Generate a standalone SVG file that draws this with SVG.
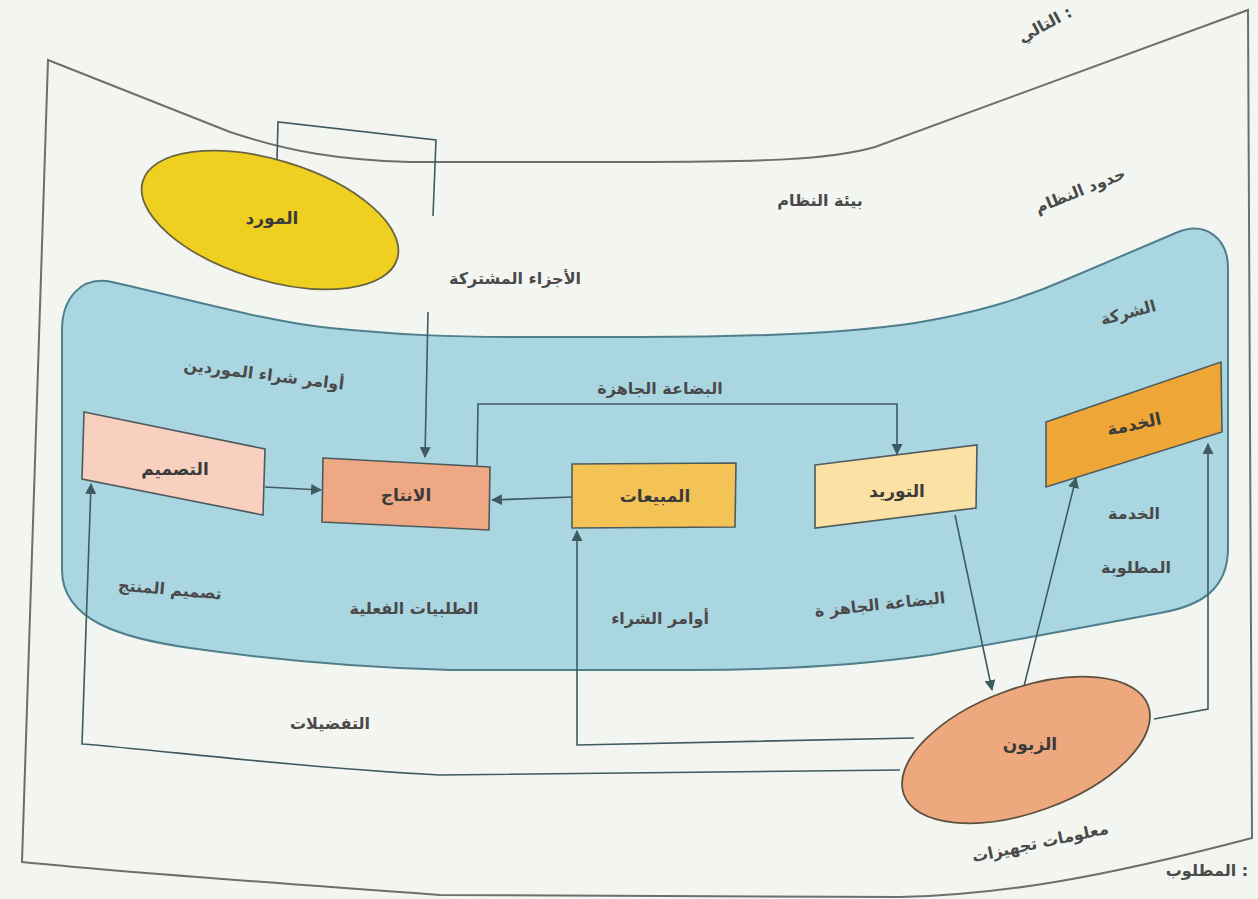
<svg xmlns="http://www.w3.org/2000/svg" width="1258" height="899" viewBox="0 0 1258 899">
<defs>
<marker id="arr" viewBox="0 0 10 10" refX="9" refY="5" markerWidth="11" markerHeight="11" markerUnits="userSpaceOnUse" orient="auto">
<path d="M0,0 L10,5 L0,10 Z" fill="#3f5a60"/>
</marker>
<style>
.bd{fill:none;stroke:#6e6e6e;stroke-width:2}
.box{stroke:#4d5a5c;stroke-width:1.6}
.cn{fill:none;stroke:#3f5a60;stroke-width:1.6}
.nt{font-family:"DejaVu Sans",sans-serif;font-weight:bold;font-size:17px;fill:#3b3b3b;text-anchor:middle}
.lb{font-family:"DejaVu Sans",sans-serif;font-weight:bold;font-size:16px;fill:#4a4a4a;text-anchor:middle}
</style>
</defs>
<rect width="1258" height="899" fill="#f3f5f1"/>

<g id="system-boundary">
<path class="bd" d="M48,60 L230,132 C290,152 340,160 410,162 L630,162 C760,162 830,160 875,147 L1248,10 L1252,838 C1100,878 1000,895 900,897 L440,895 C300,885 120,872 22,862 Z"/>
</g>

<g id="company">
<path d="M62,330 C62,300 80,275 112,282 C200,302 270,322 330,328 C400,335 450,337 520,337 L640,337 C760,337 850,333 915,323 C975,313 1020,300 1070,278 L1178,232 C1205,221 1228,238 1228,268 L1228,548 C1228,590 1200,606 1160,613 C1080,628 1000,643 930,655 C860,665 780,670 690,670 L450,670 C350,667 260,658 190,648 C120,638 62,620 62,570 Z" fill="#aad6e2" stroke="#4f7f8c" stroke-width="2"/>
</g>

<g id="connectors">
<polyline class="cn" points="277,160 278,122 436,140 433,216"/>
<line class="cn" x1="428" y1="312" x2="425" y2="457" marker-end="url(#arr)"/>
<line class="cn" x1="265" y1="487" x2="321" y2="490" marker-end="url(#arr)"/>
<line class="cn" x1="572" y1="497" x2="492" y2="500" marker-end="url(#arr)"/>
<polyline class="cn" points="477,465 478,404 897,404 897,454" marker-end="url(#arr)"/>
<line class="cn" x1="955" y1="515" x2="992" y2="690" marker-end="url(#arr)"/>
<line class="cn" x1="1024" y1="686" x2="1076" y2="478" marker-end="url(#arr)"/>
<polyline class="cn" points="1154,719 1208,709 1208,444" marker-end="url(#arr)"/>
<polyline class="cn" points="914,738 577,745 577,531" marker-end="url(#arr)"/>
<path class="cn" d="M900,770 L440,775 C300,768 160,750 82,744 L91,484" marker-end="url(#arr)"/>
</g>

<g id="supplier">
<ellipse cx="270" cy="220" rx="133" ry="60" transform="rotate(17 270 220)" fill="#efd021" stroke="#6a6440" stroke-width="1.8"/>
<text class="nt" x="272" y="224">المورد</text>
</g>

<g id="design">
<polygon class="box" points="84,412 265,449 263,515 82,479" fill="#f8d0bf"/>
<text class="nt" x="175" y="475">التصميم</text>
</g>

<g id="production">
<polygon class="box" points="323,458 490,467 489,530 322,522" fill="#eea883"/>
<text class="nt" x="406" y="501">الانتاج</text>
</g>

<g id="sales">
<polygon class="box" points="572,464 736,463 735,527 572,528" fill="#f4c356"/>
<text class="nt" x="655" y="502">المبيعات</text>
</g>

<g id="supply">
<polygon class="box" points="815,465 977,445 976,508 815,528" fill="#fbe1a3"/>
<text class="nt" x="897" y="497">التوريد</text>
</g>

<g id="service">
<polygon class="box" points="1046,422 1221,362 1222,432 1046,487" fill="#eea636"/>
<text class="nt" x="1134" y="430" transform="rotate(-12 1134 424)">الخدمة</text>
</g>

<g id="customer">
<ellipse cx="1026" cy="750" rx="130" ry="62" transform="rotate(-20 1026 750)" fill="#eea87d" stroke="#5c5040" stroke-width="1.8"/>
<text class="nt" x="1030" y="750">الزبون</text>
</g>

<g id="labels">
<text class="lb" x="820" y="206">بيئة النظام</text>
<text class="lb" x="1080" y="196" transform="rotate(-22 1080 190)">حدود النظام</text>
<text class="lb" x="515" y="284">الأجزاء المشتركة</text>
<text class="lb" x="1128" y="318" transform="rotate(-15 1128 312)">الشركة</text>
<text class="lb" x="264" y="380" transform="rotate(7 264 374)">أوامر شراء الموردين</text>
<text class="lb" x="660" y="394">البضاعة الجاهزة</text>
<text class="lb" x="170" y="595" transform="rotate(5 170 590)">تصميم المنتج</text>
<text class="lb" x="414" y="614">الطلبيات الفعلية</text>
<text class="lb" x="660" y="624">أوامر الشراء</text>
<text class="lb" x="880" y="610" transform="rotate(-6 880 605)">البضاعة الجاهز ة</text>
<text class="lb" x="1134" y="519">الخدمة</text>
<text class="lb" x="1136" y="573">المطلوبة</text>
<text class="lb" x="330" y="729">التفضيلات</text>
<text class="lb" x="1040" y="848" transform="rotate(-12 1040 842)">معلومات تجهيزات</text>
<text class="lb" x="1207" y="876" font-size="15" fill="#333">المطلوب :</text>
<text class="lb" x="1045" y="30" font-size="14" transform="rotate(-28 1045 25)">التالي :</text>
</g>
</svg>
